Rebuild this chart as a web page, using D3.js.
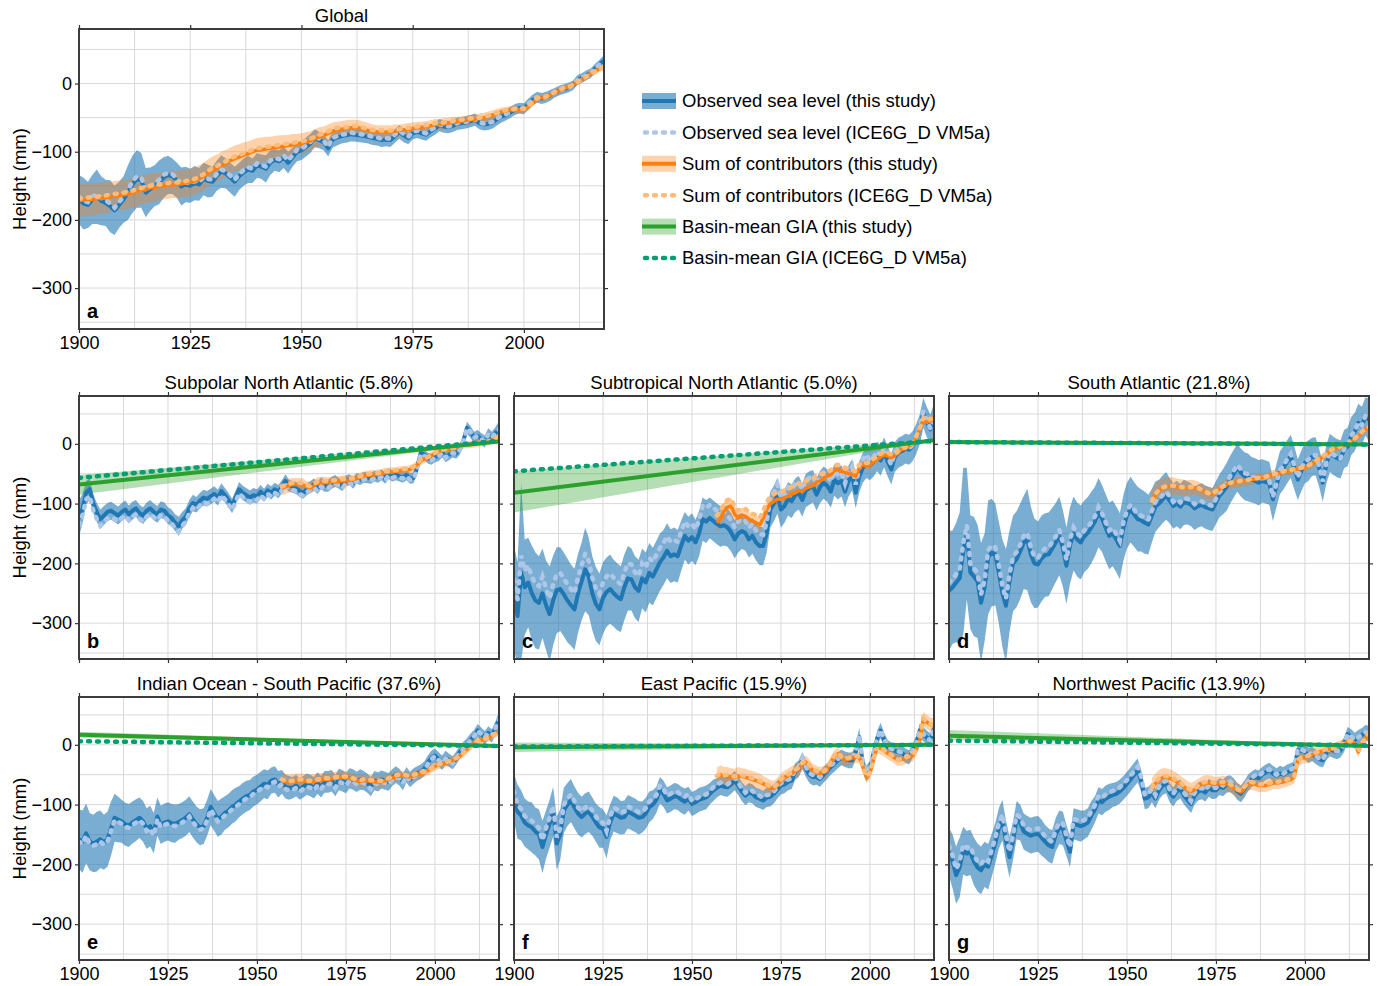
<!DOCTYPE html>
<html lang="en">
<head>
<meta charset="UTF-8">
<title>Regional sea level</title>
<script src="https://d3js.org/d3.v7.min.js"></script>
<style>
  body { margin: 0; background: #fff; }
  text { font-family: "Liberation Sans", Arial, Helvetica, sans-serif; fill: #000; }
  .tick text { font-size: 18px; }
  .title { font-size: 18.5px; text-anchor: middle; }
  .letter { font-size: 20px; font-weight: bold; }
  .ylab { font-size: 18.5px; text-anchor: middle; }
  .legend text { font-size: 18.5px; }
</style>
</head>
<body>
<div id="chart"></div>
<script>
const years = d3.range(1900, 2019);
const sumYears = d3.range(1957, 2019);
const giaYears = [1900, 2018];
const xTicks = [1900, 1925, 1950, 1975, 2000];
const yTicks = [-300, -200, -100, 0];

// Global
const globalObs = [
  -170,-176,-178,-170,-166,-172,-175,-180,-186,-178,
  -170,-160,-148,-140,-142,-160,-155,-150,-145,-138,
  -134,-136,-142,-151,-148,-150,-146,-148,-140,-143,
  -144,-135,-129,-132,-138,-144,-136,-130,-126,-128,
  -120,-122,-125,-116,-112,-114,-108,-116,-108,-100,
  -98,-93,-88,-80,-83,-86,-95,-82,-79,-77,
  -76,-74,-75,-76,-77,-78,-80,-81,-83,-82,
  -83,-77,-71,-76,-80,-73,-71,-73,-75,-70,
  -66,-61,-63,-64,-62,-59,-58,-57,-55,-53,
  -58,-60,-59,-57,-52,-48,-46,-42,-38,-36,
  -37,-30,-24,-20,-22,-20,-17,-13,-10,-8,
  -6,-3,5,8,12,15,22,28,34];
const globalObsErr = [
  36,38,34,36,40,36,34,38,36,34,
  34,40,42,42,40,36,32,30,32,30,
  28,26,26,28,26,25,25,24,24,24,
  22,22,24,22,22,22,20,20,20,18,
  18,18,20,18,16,16,16,16,14,14,
  14,14,14,13,12,12,12,12,12,11,
  11,11,10,10,10,10,10,10,10,10,
  10,10,10,10,9,9,9,9,9,9,
  9,9,9,9,9,9,9,9,9,9,
  9,9,9,9,9,9,8,8,8,8,
  8,8,8,8,8,8,8,7,7,7,
  7,7,7,7,7,7,7,7,8];
const globalObsIce = [
  -166,-172,-174,-166,-162,-168,-171,-176,-182,-174,
  -166,-156,-144,-136,-138,-156,-151,-146,-141,-134,
  -131,-133,-139,-148,-145,-147,-143,-145,-137,-140,
  -141,-132,-126,-129,-135,-141,-133,-127,-123,-125,
  -117,-119,-122,-113,-109,-111,-105,-113,-105,-97,
  -96,-91,-86,-78,-81,-84,-93,-80,-77,-75,
  -74,-72,-73,-74,-75,-76,-78,-79,-81,-80,
  -81,-75,-69,-74,-78,-71,-69,-71,-73,-68,
  -65,-60,-62,-63,-61,-58,-57,-56,-54,-52,
  -57,-59,-58,-56,-51,-47,-45,-41,-37,-35,
  -37,-30,-24,-20,-22,-20,-17,-13,-10,-8,
  -6,-3,5,8,12,15,22,28,34];
const globalSum = [
  -172,-171,-170,-170,-169,-168,-167,-166,-165,-164,
  -163,-162,-160,-158,-156,-155,-153,-152,-151,-150,
  -149,-148,-148,-147,-146,-145,-143,-140,-136,-131,
  -127,-124,-120,-117,-113,-110,-108,-105,-103,-100,
  -98,-97,-96,-95,-94,-93,-92,-91,-90,-89,
  -88,-86,-84,-81,-78,-76,-73,-70,-68,-67,
  -66,-65,-64,-65,-67,-69,-70,-71,-71,-71,
  -71,-70,-69,-68,-67,-66,-65,-64,-63,-62,
  -60,-60,-59,-58,-57,-56,-55,-54,-53,-52,
  -51,-50,-48,-46,-44,-41,-40,-39,-38,-38,
  -38,-34,-28,-22,-21,-20,-17,-13,-10,-7,
  -5,-2,2,6,10,15,18,22,25];
const globalSumErr = [
  24,24,24,24,23,23,23,22,22,22,
  22,22,22,22,21,21,21,21,20,20,
  20,20,20,20,20,20,20,20,20,20,
  20,20,20,20,19,19,19,19,18,18,
  18,18,18,17,17,17,16,16,16,15,
  15,15,14,14,14,13,13,13,12,12,
  12,12,11,11,11,11,10,10,10,10,
  10,10,9,9,9,9,9,8,8,8,
  8,8,8,8,8,7,7,7,7,7,
  7,7,7,7,7,6,6,6,6,6,
  6,6,5,5,5,5,5,5,5,5,
  5,5,5,5,5,5,5,5,5];
const globalSumIce = [
  -169,-168,-167,-167,-166,-165,-164,-163,-162,-161,
  -160,-159,-157,-155,-153,-152,-150,-149,-148,-147,
  -146,-145,-145,-144,-143,-142,-140,-137,-133,-128,
  -124,-121,-117,-114,-110,-107,-105,-102,-100,-97,
  -95,-94,-93,-92,-91,-90,-89,-88,-87,-86,
  -85,-83,-81,-78,-75,-73,-70,-67,-65,-64,
  -64,-63,-62,-63,-65,-67,-68,-69,-69,-69,
  -69,-68,-67,-66,-65,-64,-63,-62,-61,-60,
  -58,-58,-57,-56,-55,-54,-53,-52,-51,-50,
  -50,-49,-47,-45,-43,-40,-39,-38,-37,-37,
  -37,-33,-27,-21,-20,-19,-16,-12,-9,-6,
  -5,-2,2,6,10,15,18,22,25];

// Subpolar North Atlantic
const spnaObs = [
  -125,-108,-82,-76,-100,-115,-126,-120,-114,-112,
  -116,-120,-114,-110,-118,-112,-108,-116,-120,-112,
  -108,-114,-118,-110,-112,-120,-124,-132,-138,-128,
  -122,-108,-99,-102,-95,-90,-92,-88,-84,-90,
  -79,-86,-94,-104,-90,-76,-82,-86,-90,-86,
  -88,-80,-86,-78,-82,-76,-80,-72,-62,-70,
  -72,-74,-79,-82,-76,-72,-68,-74,-66,-70,
  -70,-65,-62,-66,-70,-62,-60,-66,-58,-60,
  -56,-57,-58,-54,-56,-52,-58,-50,-54,-52,
  -54,-56,-52,-58,-57,-40,-15,-18,-24,-26,
  -22,-20,-14,-22,-18,-14,-16,-9,5,27,
  20,10,13,8,4,16,10,18,24];
const spnaObsErr = [
  30,25,20,18,16,16,16,16,15,15,
  15,15,15,15,15,15,14,14,14,14,
  14,14,14,14,14,14,14,14,16,14,
  14,14,14,13,13,13,13,13,13,13,
  13,12,12,12,12,12,12,12,12,12,
  12,11,11,11,11,11,11,11,11,10,
  10,10,10,10,10,10,10,10,10,10,
  10,10,10,9,9,9,9,9,9,9,
  9,9,9,9,9,9,9,9,9,9,
  9,9,9,9,9,9,9,9,9,9,
  9,9,9,9,9,9,9,9,9,10,
  10,10,10,10,10,10,10,10,14];
const spnaObsIce = [
  -136,-119,-93,-87,-111,-126,-137,-131,-125,-123,
  -126,-130,-124,-120,-128,-122,-118,-126,-130,-122,
  -117,-123,-127,-119,-121,-129,-133,-141,-147,-137,
  -130,-116,-107,-110,-103,-98,-100,-96,-92,-98,
  -86,-93,-101,-111,-97,-83,-89,-93,-97,-93,
  -94,-86,-92,-84,-88,-82,-86,-78,-68,-76,
  -77,-79,-84,-87,-81,-77,-73,-79,-71,-75,
  -74,-69,-66,-70,-74,-66,-64,-70,-62,-64,
  -59,-60,-61,-57,-59,-55,-61,-53,-57,-55,
  -56,-58,-54,-60,-59,-42,-17,-20,-26,-28,
  -23,-21,-15,-23,-19,-15,-17,-10,4,26,
  20,10,13,8,4,16,10,18,24];
const spnaSum = [
  -74,-72,-70,-68,-68,-68,-69,-72,-74,-70,
  -66,-65,-65,-65,-64,-64,-63,-62,-62,-61,
  -60,-58,-56,-54,-53,-52,-52,-51,-50,-48,
  -48,-47,-46,-45,-44,-44,-43,-40,-35,-29,
  -25,-23,-20,-16,-13,-11,-10,-9,-8,-6,
  -4,-2,-1,-1,0,1,2,3,4,6,
  9,13];
const spnaSumErr = [
  12,12,12,11,11,11,11,10,10,10,
  10,10,10,9,9,9,9,9,9,9,
  8,8,8,8,8,8,8,8,8,8,
  8,8,7,7,7,7,7,7,7,7,
  7,7,6,6,6,6,6,6,6,6,
  6,6,6,6,6,6,6,6,6,6,
  6,7];
const spnaSumIce = [
  -71,-69,-67,-65,-65,-65,-66,-69,-71,-67,
  -63,-62,-62,-62,-61,-61,-60,-59,-59,-58,
  -58,-56,-54,-52,-51,-50,-50,-49,-48,-46,
  -46,-45,-44,-43,-42,-42,-41,-38,-33,-27,
  -24,-22,-19,-15,-12,-10,-9,-8,-7,-5,
  -4,-2,-1,-1,0,1,2,3,4,6,
  9,13];
const spnaGia = [-68, 4];
const spnaGiaLo = [-85, 3];
const spnaGiaHi = [-52, 5];
const spnaGiaIce = [-57, 5];

// Subtropical North Atlantic
const stnaObs = [
  -255,-288,-215,-240,-232,-250,-262,-266,-250,-270,
  -285,-262,-245,-243,-252,-262,-270,-277,-250,-230,
  -210,-222,-250,-268,-277,-258,-248,-243,-250,-256,
  -260,-240,-225,-227,-240,-246,-225,-232,-216,-222,
  -210,-198,-190,-179,-188,-185,-188,-170,-154,-162,
  -156,-165,-150,-126,-130,-124,-129,-134,-138,-136,
  -140,-148,-160,-150,-146,-149,-160,-154,-165,-171,
  -171,-150,-110,-100,-87,-110,-104,-92,-96,-86,
  -82,-94,-78,-74,-71,-85,-72,-65,-70,-80,
  -60,-66,-62,-80,-62,-52,-82,-55,-40,-32,
  -36,-30,-21,-28,-14,-30,-43,-22,-15,-12,
  -8,-10,-4,8,24,52,36,24,40];
const stnaObsErr = [
  85,90,150,80,75,80,80,78,75,75,
  80,75,72,70,70,70,68,68,66,65,
  70,65,62,62,60,60,58,58,56,56,
  55,55,54,52,52,52,50,50,50,48,
  48,48,46,46,45,45,44,42,40,40,
  40,38,38,36,36,34,34,34,34,34,
  32,32,32,32,30,30,30,30,30,32,
  32,32,30,30,30,30,28,28,28,28,
  28,28,28,28,27,27,27,27,27,27,
  27,27,26,26,26,26,26,26,25,25,
  25,25,25,25,25,25,25,25,25,25,
  25,25,25,25,25,25,25,25,28];
const stnaObsIce = [
  -227,-260,-187,-212,-204,-222,-234,-238,-222,-242,
  -258,-235,-218,-216,-225,-235,-243,-250,-223,-203,
  -184,-196,-224,-242,-251,-232,-222,-217,-224,-230,
  -235,-215,-200,-202,-215,-221,-200,-207,-191,-197,
  -186,-174,-166,-155,-164,-161,-164,-146,-130,-138,
  -134,-143,-128,-104,-108,-102,-107,-112,-116,-114,
  -120,-128,-140,-130,-126,-129,-140,-134,-145,-151,
  -152,-131,-91,-81,-68,-91,-85,-73,-77,-67,
  -65,-77,-61,-57,-54,-68,-55,-48,-53,-63,
  -46,-52,-48,-66,-48,-38,-68,-41,-26,-18,
  -28,-22,-13,-20,-6,-22,-35,-14,-7,-4,
  -6,-8,-2,10,26,54,38,26,42];
const stnaSum = [
  -132,-125,-112,-106,-104,-118,-124,-120,-121,-126,
  -129,-132,-136,-125,-110,-100,-96,-93,-92,-90,
  -88,-84,-82,-78,-80,-74,-72,-70,-64,-62,
  -58,-54,-52,-45,-43,-46,-48,-50,-52,-54,
  -40,-35,-37,-36,-30,-26,-22,-18,-20,-23,
  -20,-14,-9,-8,-3,-1,10,24,41,36,
  40,38];
const stnaSumErr = [
  16,15,15,14,14,14,13,13,13,12,
  12,12,12,11,11,11,10,10,10,10,
  10,9,9,9,9,9,8,8,8,8,
  8,8,8,8,7,7,7,7,7,7,
  7,7,7,6,6,6,6,6,6,6,
  6,6,6,6,6,6,6,6,7,7,
  7,8];
const stnaSumIce = [
  -120,-113,-100,-94,-92,-106,-112,-108,-109,-114,
  -117,-120,-124,-113,-98,-88,-84,-81,-80,-78,
  -76,-72,-70,-66,-68,-62,-60,-58,-52,-50,
  -50,-46,-44,-37,-35,-38,-40,-42,-44,-46,
  -35,-30,-32,-31,-25,-21,-17,-13,-15,-18,
  -18,-12,-7,-6,-1,1,12,26,43,38,
  42,40];
const stnaGia = [-82, 6];
const stnaGiaLo = [-115, 5];
const stnaGiaHi = [-46, 7];
const stnaGiaIce = [-46, 5];

// South Atlantic
const saObs = [
  -246,-240,-232,-225,-180,-150,-215,-222,-230,-266,
  -240,-190,-182,-185,-215,-250,-271,-230,-200,-193,
  -180,-165,-160,-185,-200,-202,-192,-186,-185,-175,
  -165,-154,-175,-204,-170,-150,-160,-165,-155,-149,
  -140,-130,-115,-125,-140,-154,-150,-160,-171,-140,
  -120,-110,-118,-126,-128,-132,-135,-120,-105,-100,
  -93,-87,-95,-104,-100,-105,-98,-99,-102,-108,
  -104,-102,-106,-108,-110,-98,-87,-80,-72,-60,
  -50,-40,-48,-54,-56,-60,-62,-65,-62,-64,
  -66,-93,-70,-48,-40,-30,-21,-40,-60,-45,
  -32,-28,-22,-21,-40,-65,-35,-15,-20,-24,
  -26,-9,-5,13,20,35,30,46,40];
const saObsErr = [
  100,95,100,110,140,110,95,100,95,100,
  90,95,90,85,85,90,95,85,80,80,
  80,78,85,80,75,72,72,70,70,68,
  66,66,64,64,64,62,62,62,60,60,
  60,58,58,56,56,56,55,55,55,55,
  55,55,54,54,52,52,50,45,42,40,
  40,40,38,38,38,38,38,36,36,36,
  36,36,36,36,36,36,36,38,40,40,
  40,40,40,40,40,38,38,38,36,36,
  36,36,36,36,36,36,36,36,34,34,
  34,34,32,32,32,32,32,32,32,32,
  32,32,32,32,32,32,32,32,36];
const saObsIce = [
  -232,-226,-218,-211,-166,-136,-201,-208,-216,-252,
  -228,-178,-170,-173,-203,-238,-259,-218,-188,-181,
  -169,-154,-149,-174,-189,-191,-181,-175,-174,-164,
  -155,-144,-165,-194,-160,-140,-150,-155,-145,-139,
  -131,-121,-106,-116,-131,-145,-141,-151,-162,-131,
  -112,-102,-110,-118,-120,-124,-127,-112,-97,-92,
  -86,-80,-88,-97,-93,-98,-91,-92,-95,-101,
  -98,-96,-100,-102,-104,-92,-81,-74,-66,-54,
  -45,-35,-43,-49,-51,-55,-57,-60,-57,-59,
  -62,-89,-66,-44,-36,-26,-17,-36,-56,-41,
  -30,-26,-20,-19,-38,-63,-33,-13,-18,-22,
  -25,-8,-4,14,21,36,31,47,41];
const saSum = [
  -96,-85,-78,-74,-72,-71,-71,-72,-73,-74,
  -74,-73,-74,-75,-78,-81,-84,-85,-80,-76,
  -72,-68,-66,-65,-64,-63,-62,-61,-60,-59,
  -58,-57,-56,-54,-52,-51,-49,-47,-46,-45,
  -43,-42,-41,-40,-37,-34,-30,-26,-22,-18,
  -13,-9,-7,-5,-3,-1,3,8,13,19,
  24,27];
const saSumErr = [
  18,18,17,16,16,15,15,14,14,14,
  13,13,13,12,12,12,11,11,11,10,
  10,10,10,9,9,9,9,9,8,8,
  8,8,8,8,8,7,7,7,7,7,
  7,7,7,6,6,6,6,6,6,6,
  6,6,6,6,6,6,6,6,6,6,
  6,6];
const saSumIce = [
  -95,-84,-77,-73,-71,-70,-70,-71,-72,-73,
  -73,-72,-73,-74,-77,-80,-83,-84,-79,-75,
  -71,-67,-65,-64,-63,-62,-61,-60,-59,-58,
  -57,-56,-55,-53,-51,-50,-48,-46,-45,-44,
  -42,-41,-40,-39,-36,-33,-29,-25,-21,-17,
  -12,-8,-6,-4,-2,0,4,9,14,20,
  25,28];
const saGia = [3, -1];
const saGiaLo = [1, -1.5];
const saGiaHi = [5, -0.5];
const saGiaIce = [3, -1];

// Indian Ocean - South Pacific
const iospObs = [
  -158,-162,-148,-162,-165,-162,-158,-163,-158,-140,
  -122,-125,-128,-133,-135,-130,-126,-122,-128,-140,
  -136,-148,-120,-134,-130,-128,-131,-132,-129,-126,
  -122,-116,-125,-133,-138,-136,-122,-104,-114,-124,
  -120,-114,-110,-104,-100,-95,-90,-86,-84,-78,
  -75,-70,-65,-67,-60,-58,-66,-62,-70,-72,
  -72,-68,-74,-70,-66,-68,-72,-64,-70,-62,
  -62,-60,-68,-58,-60,-64,-56,-58,-62,-58,
  -60,-64,-70,-60,-62,-58,-60,-62,-55,-50,
  -54,-62,-50,-58,-52,-48,-45,-40,-30,-22,
  -18,-24,-30,-22,-26,-30,-22,-12,-6,0,
  8,14,24,18,12,20,15,28,42];
const iospObsErr = [
  50,52,50,48,48,50,48,46,46,45,
  40,38,36,36,36,35,35,34,34,34,
  34,34,32,32,32,32,32,32,30,30,
  30,30,30,30,30,30,30,30,30,30,
  30,28,28,28,28,26,26,26,25,25,
  25,25,24,24,22,22,22,20,20,20,
  18,18,18,18,18,18,18,18,18,18,
  18,18,18,18,18,17,17,17,17,17,
  16,16,16,16,16,15,15,15,14,14,
  14,14,13,13,13,12,12,12,12,12,
  12,12,12,12,11,11,11,11,11,11,
  11,11,11,11,11,11,11,11,14];
const iospObsIce = [
  -162,-166,-152,-166,-169,-166,-162,-167,-162,-144,
  -126,-129,-132,-137,-139,-134,-130,-126,-132,-144,
  -140,-152,-124,-138,-134,-132,-135,-136,-133,-130,
  -126,-120,-129,-137,-142,-140,-126,-108,-118,-128,
  -124,-118,-114,-108,-104,-99,-94,-90,-88,-82,
  -79,-74,-69,-71,-64,-62,-70,-66,-74,-76,
  -76,-72,-78,-74,-70,-72,-76,-68,-74,-66,
  -66,-64,-72,-62,-64,-68,-60,-62,-66,-62,
  -64,-68,-74,-64,-66,-62,-64,-66,-59,-54,
  -56,-64,-52,-60,-54,-50,-47,-42,-32,-24,
  -19,-25,-31,-23,-27,-31,-23,-13,-7,-1,
  8,14,24,18,12,20,15,28,42];
const iospSum = [
  -60,-62,-63,-62,-61,-60,-60,-62,-62,-61,
  -60,-59,-58,-58,-57,-56,-56,-55,-55,-56,
  -58,-60,-61,-60,-60,-61,-62,-62,-62,-60,
  -58,-55,-53,-52,-52,-53,-54,-52,-50,-48,
  -46,-43,-40,-36,-34,-32,-30,-28,-26,-23,
  -18,-14,-8,-2,3,6,8,10,12,15,
  19,22];
const iospSumErr = [
  14,14,13,13,13,12,12,12,12,12,
  12,12,11,11,11,11,11,11,11,10,
  10,10,10,10,10,10,10,10,9,9,
  9,9,9,9,8,8,8,8,8,8,
  8,8,7,7,7,7,7,7,7,7,
  7,7,7,7,7,7,7,7,7,7,
  7,7];
const iospSumIce = [
  -58,-60,-61,-60,-59,-58,-58,-60,-60,-59,
  -58,-57,-56,-56,-55,-54,-54,-53,-53,-54,
  -56,-58,-59,-58,-58,-59,-60,-60,-60,-58,
  -56,-53,-51,-50,-50,-51,-52,-50,-48,-46,
  -45,-42,-39,-35,-33,-31,-29,-27,-25,-22,
  -18,-14,-8,-2,3,6,8,10,12,15,
  19,22];
const iospGia = [17, -2];
const iospGiaLo = [12, -2.5];
const iospGiaHi = [22, -1.5];
const iospGiaIce = [6, -2];

// East Pacific
const epObs = [
  -88,-112,-118,-130,-135,-138,-145,-150,-171,-150,
  -132,-112,-165,-150,-110,-100,-93,-105,-115,-121,
  -115,-112,-120,-130,-138,-140,-154,-130,-115,-118,
  -122,-121,-112,-115,-118,-122,-121,-115,-104,-100,
  -92,-76,-82,-93,-90,-86,-87,-92,-95,-90,
  -99,-96,-92,-90,-88,-82,-76,-72,-68,-70,
  -71,-66,-60,-68,-78,-85,-80,-82,-88,-90,
  -93,-88,-87,-82,-75,-68,-66,-62,-60,-45,
  -40,-26,-40,-50,-54,-54,-57,-50,-44,-37,
  -32,-26,-21,-24,-26,-26,-12,13,-32,-48,
  -40,-15,10,24,8,-4,-8,-10,-12,-14,
  -18,-21,-10,2,24,18,12,7,27];
const epObsErr = [
  40,45,42,40,40,42,40,42,44,40,
  40,42,45,42,38,36,36,35,35,34,
  34,34,32,32,34,32,36,30,30,30,
  28,28,28,28,28,28,26,26,26,24,
  22,22,22,22,22,22,22,22,22,20,
  20,20,20,20,20,18,18,16,16,16,
  16,16,16,16,16,16,16,16,16,16,
  16,16,16,16,15,15,15,14,14,14,
  14,14,14,14,14,13,13,13,13,13,
  13,13,13,13,13,13,13,15,13,13,
  13,13,13,13,12,12,12,12,12,12,
  12,12,12,12,12,12,12,12,14];
const epObsIce = [
  -77,-101,-107,-119,-124,-127,-134,-139,-160,-139,
  -122,-102,-155,-140,-100,-90,-83,-95,-105,-111,
  -105,-102,-110,-120,-128,-130,-144,-120,-105,-108,
  -113,-112,-103,-106,-109,-113,-112,-106,-95,-91,
  -84,-68,-74,-85,-82,-78,-79,-84,-87,-82,
  -94,-91,-87,-85,-83,-77,-71,-67,-63,-65,
  -66,-61,-55,-63,-73,-80,-75,-77,-83,-85,
  -89,-84,-83,-78,-71,-64,-62,-58,-56,-41,
  -37,-23,-37,-47,-51,-51,-54,-47,-41,-34,
  -30,-24,-19,-22,-24,-24,-10,15,-30,-46,
  -39,-14,11,25,9,-3,-7,-9,-11,-13,
  -18,-21,-10,2,24,18,12,7,27];
const epSum = [
  -54,-50,-53,-52,-54,-55,-52,-53,-54,-56,
  -58,-60,-62,-65,-68,-72,-73,-68,-60,-55,
  -52,-48,-44,-40,-32,-29,-36,-43,-46,-48,
  -46,-42,-30,-20,-15,-22,-25,-24,-22,-20,
  -21,-36,-54,-48,-25,-4,-6,-10,-14,-18,
  -22,-26,-24,-22,-20,-18,-8,7,43,38,
  34,32];
const epSumErr = [
  16,16,16,15,15,15,15,14,14,14,
  14,14,14,13,13,13,13,13,12,12,
  12,12,12,12,12,11,11,11,11,11,
  11,11,11,11,10,10,10,10,10,10,
  10,10,10,10,10,10,10,10,10,10,
  10,10,10,10,10,10,10,10,12,12,
  12,12];
const epSumIce = [
  -52,-48,-51,-50,-52,-53,-50,-51,-52,-54,
  -56,-58,-60,-63,-66,-70,-71,-66,-58,-53,
  -50,-46,-42,-38,-30,-27,-34,-41,-44,-46,
  -44,-40,-28,-18,-13,-20,-23,-22,-20,-18,
  -20,-35,-53,-47,-24,-3,-5,-9,-13,-17,
  -21,-25,-23,-21,-19,-17,-7,8,44,39,
  35,33];
const epGia = [-4, 0];
const epGiaLo = [-12, -0.5];
const epGiaHi = [4, 0.5];
const epGiaIce = [-3, 0];

// Northwest Pacific
const nwpObs = [
  -179,-195,-218,-205,-177,-182,-180,-195,-205,-210,
  -200,-204,-185,-165,-140,-126,-160,-188,-160,-126,
  -130,-145,-149,-152,-150,-149,-155,-162,-168,-171,
  -150,-138,-140,-160,-179,-132,-134,-136,-134,-130,
  -118,-108,-93,-96,-90,-87,-84,-82,-78,-72,
  -65,-58,-50,-43,-60,-90,-88,-80,-90,-76,
  -68,-65,-80,-87,-78,-74,-85,-92,-99,-85,
  -78,-76,-80,-72,-76,-76,-70,-72,-66,-65,
  -70,-78,-82,-74,-64,-58,-54,-56,-50,-46,
  -43,-48,-52,-48,-50,-46,-44,-40,-9,-10,
  -12,-18,-15,-20,-24,-26,-14,-7,-10,-12,
  -9,0,18,14,8,13,16,21,18];
const nwpObsErr = [
  40,45,48,50,40,38,38,40,40,40,
  38,38,36,34,34,34,34,34,32,32,
  30,30,30,30,30,30,30,28,28,28,
  28,28,28,26,26,26,26,26,24,24,
  24,22,22,22,22,22,20,20,20,20,
  20,20,20,20,18,18,18,16,16,16,
  16,16,16,16,16,16,15,15,15,15,
  15,15,15,15,15,14,14,14,14,14,
  14,14,14,14,14,13,13,13,13,13,
  13,13,13,13,13,13,13,13,13,13,
  13,13,12,12,12,12,12,12,12,12,
  12,12,12,12,12,12,12,12,14];
const nwpObsIce = [
  -169,-185,-208,-195,-167,-172,-170,-185,-195,-200,
  -191,-195,-176,-156,-131,-117,-151,-179,-151,-117,
  -121,-136,-140,-143,-141,-140,-146,-153,-159,-162,
  -142,-130,-132,-152,-171,-124,-126,-128,-126,-122,
  -111,-101,-86,-89,-83,-80,-77,-75,-71,-65,
  -59,-52,-44,-37,-54,-84,-82,-74,-84,-70,
  -63,-60,-75,-82,-73,-69,-80,-87,-94,-80,
  -74,-72,-76,-68,-72,-72,-66,-68,-62,-61,
  -67,-75,-79,-71,-61,-55,-51,-53,-47,-43,
  -41,-46,-50,-46,-48,-44,-42,-38,-7,-8,
  -11,-17,-14,-19,-23,-25,-13,-6,-9,-11,
  -9,0,18,14,8,13,16,21,18];
const nwpSum = [
  -73,-65,-58,-55,-54,-56,-58,-62,-66,-70,
  -74,-78,-75,-70,-66,-64,-64,-65,-66,-65,
  -64,-65,-68,-72,-76,-79,-72,-66,-64,-66,
  -68,-68,-68,-66,-64,-64,-63,-62,-60,-58,
  -54,-26,-22,-21,-19,-17,-14,-12,-10,-8,
  -7,-6,-4,-1,2,6,7,2,-12,4,
  10,21];
const nwpSumErr = [
  18,17,16,16,15,15,15,15,14,14,
  14,14,14,13,13,13,13,13,12,12,
  12,12,12,12,12,11,11,11,11,11,
  11,11,11,11,10,10,10,10,10,10,
  10,10,10,10,10,10,9,9,9,9,
  9,9,9,9,9,9,9,9,9,9,
  9,9];
const nwpSumIce = [
  -71,-63,-56,-53,-52,-54,-56,-60,-64,-68,
  -72,-76,-73,-68,-64,-62,-62,-63,-64,-63,
  -62,-63,-66,-70,-74,-77,-70,-64,-62,-64,
  -66,-66,-66,-64,-62,-62,-61,-60,-58,-56,
  -53,-25,-21,-20,-18,-16,-13,-11,-9,-7,
  -7,-6,-4,-1,2,6,7,2,-12,4,
  10,21];
const nwpGia = [15, -2];
const nwpGiaLo = [8, -2.5];
const nwpGiaHi = [25, -1.5];
const nwpGiaIce = [7, -1];

const colors = {
  obs: "#1f77b4", obsIce: "#aec7e8",
  sum: "#ff7f0e", sumIce: "#ffbb78",
  gia: "#2ca02c", giaIce: "#009e73"
};

const panels = [
  {id: "a", title: "Global", box: [79, 604, 29, 329], yLab: true, xLab: true,
   obs: globalObs, obsErr: globalObsErr, obsIce: globalObsIce,
   sumX: years, sum: globalSum, sumErr: globalSumErr, sumIce: globalSumIce},
  {id: "b", title: "Subpolar North Atlantic (5.8%)", box: [79, 499, 396, 659], yLab: true, xLab: false,
   obs: spnaObs, obsErr: spnaObsErr, obsIce: spnaObsIce,
   sumX: sumYears, sum: spnaSum, sumErr: spnaSumErr, sumIce: spnaSumIce,
   gia: spnaGia, giaLo: spnaGiaLo, giaHi: spnaGiaHi, giaIce: spnaGiaIce},
  {id: "c", title: "Subtropical North Atlantic (5.0%)", box: [514, 934, 396, 659], yLab: false, xLab: false,
   obs: stnaObs, obsErr: stnaObsErr, obsIce: stnaObsIce,
   sumX: sumYears, sum: stnaSum, sumErr: stnaSumErr, sumIce: stnaSumIce,
   gia: stnaGia, giaLo: stnaGiaLo, giaHi: stnaGiaHi, giaIce: stnaGiaIce},
  {id: "d", title: "South Atlantic (21.8%)", box: [949, 1369, 396, 659], yLab: false, xLab: false,
   obs: saObs, obsErr: saObsErr, obsIce: saObsIce,
   sumX: sumYears, sum: saSum, sumErr: saSumErr, sumIce: saSumIce,
   gia: saGia, giaLo: saGiaLo, giaHi: saGiaHi, giaIce: saGiaIce},
  {id: "e", title: "Indian Ocean - South Pacific (37.6%)", box: [79, 499, 697, 960], yLab: true, xLab: true,
   obs: iospObs, obsErr: iospObsErr, obsIce: iospObsIce,
   sumX: sumYears, sum: iospSum, sumErr: iospSumErr, sumIce: iospSumIce,
   gia: iospGia, giaLo: iospGiaLo, giaHi: iospGiaHi, giaIce: iospGiaIce},
  {id: "f", title: "East Pacific (15.9%)", box: [514, 934, 697, 960], yLab: false, xLab: true,
   obs: epObs, obsErr: epObsErr, obsIce: epObsIce,
   sumX: sumYears, sum: epSum, sumErr: epSumErr, sumIce: epSumIce,
   gia: epGia, giaLo: epGiaLo, giaHi: epGiaHi, giaIce: epGiaIce},
  {id: "g", title: "Northwest Pacific (13.9%)", box: [949, 1369, 697, 960], yLab: false, xLab: true,
   obs: nwpObs, obsErr: nwpObsErr, obsIce: nwpObsIce,
   sumX: sumYears, sum: nwpSum, sumErr: nwpSumErr, sumIce: nwpSumIce,
   gia: nwpGia, giaLo: nwpGiaLo, giaHi: nwpGiaHi, giaIce: nwpGiaIce}
];

const svg = d3.select("#chart").append("svg")
  .attr("width", 1379)
  .attr("height", 986);
const defs = svg.append("defs");

function drawPanel(p) {
  const [x0, x1, y0, y1] = p.box;
  const x = d3.scaleLinear().domain([1900, 2018]).range([x0, x1]);
  const y = d3.scaleLinear().domain([-360, 80]).range([y1, y0]);
  const g = svg.append("g");

  defs.append("clipPath").attr("id", "clip-" + p.id)
    .append("rect").attr("x", x0).attr("y", y0).attr("width", x1 - x0).attr("height", y1 - y0);

  g.append("g").selectAll("line")
    .data(d3.range(1912.5, 2018, 12.5))
    .join("line")
    .attr("x1", d => x(d)).attr("x2", d => x(d))
    .attr("y1", y0).attr("y2", y1)
    .attr("stroke", "#d9d9d9").attr("stroke-width", 1);
  g.append("g").selectAll("line")
    .data(d3.range(-350, 80, 50))
    .join("line")
    .attr("x1", x0).attr("x2", x1)
    .attr("y1", d => y(d)).attr("y2", d => y(d))
    .attr("stroke", "#d9d9d9").attr("stroke-width", 1);

  const plot = g.append("g").attr("clip-path", `url(#clip-${p.id})`);

  const band = (xs, lo, hi) => d3.area()
    .x((d, i) => x(xs[i]))
    .y0((d, i) => y(lo[i]))
    .y1((d, i) => y(hi[i]))(xs);
  const line = (xs, vs) => d3.line()
    .x((d, i) => x(xs[i]))
    .y((d, i) => y(vs[i]))(xs);

  const obsLo = p.obs.map((v, i) => v - p.obsErr[i]);
  const obsHi = p.obs.map((v, i) => v + p.obsErr[i]);
  const sumLo = p.sum.map((v, i) => v - p.sumErr[i]);
  const sumHi = p.sum.map((v, i) => v + p.sumErr[i]);

  plot.append("path").attr("d", band(years, obsLo, obsHi))
    .attr("fill", colors.obs).attr("fill-opacity", 0.6);
  plot.append("path").attr("d", band(p.sumX, sumLo, sumHi))
    .attr("fill", colors.sum).attr("fill-opacity", 0.35);
  if (p.gia) {
    plot.append("path").attr("d", band(giaYears, p.giaLo, p.giaHi))
      .attr("fill", colors.gia).attr("fill-opacity", 0.35);
  }

  plot.append("path").attr("d", line(years, p.obs))
    .attr("fill", "none").attr("stroke", colors.obs).attr("stroke-width", 4)
    .attr("stroke-linejoin", "round");
  plot.append("path").attr("d", line(years, p.obsIce))
    .attr("fill", "none").attr("stroke", colors.obsIce).attr("stroke-width", 4.5)
    .attr("stroke-linecap", "round").attr("stroke-dasharray", "2,7");
  plot.append("path").attr("d", line(p.sumX, p.sum))
    .attr("fill", "none").attr("stroke", colors.sum).attr("stroke-width", 3.5)
    .attr("stroke-linejoin", "round");
  plot.append("path").attr("d", line(p.sumX, p.sumIce))
    .attr("fill", "none").attr("stroke", colors.sumIce).attr("stroke-width", 4.5)
    .attr("stroke-linecap", "round").attr("stroke-dasharray", "2,7");
  if (p.gia) {
    plot.append("path").attr("d", line(giaYears, p.gia))
      .attr("fill", "none").attr("stroke", colors.gia).attr("stroke-width", 4);
    plot.append("path").attr("d", line(giaYears, p.giaIce))
      .attr("fill", "none").attr("stroke", colors.giaIce).attr("stroke-width", 4.5)
      .attr("stroke-linecap", "round").attr("stroke-dasharray", "2,7");
  }

  const styleAxis = sel => {
    sel.select(".domain").remove();
    sel.selectAll(".tick line").attr("stroke", "#333").attr("stroke-width", 1.2);
    sel.attr("font-size", null).attr("font-family", null);
  };
  g.append("g").attr("transform", `translate(0,${y1})`)
    .call(d3.axisBottom(x).tickValues(xTicks).tickSize(4).tickPadding(3)
      .tickFormat(p.xLab ? d3.format("d") : ""))
    .call(styleAxis);
  g.append("g").attr("transform", `translate(0,${y0})`)
    .call(d3.axisTop(x).tickValues(xTicks).tickSize(4).tickFormat(""))
    .call(styleAxis);
  g.append("g").attr("transform", `translate(${x0},0)`)
    .call(d3.axisLeft(y).tickValues(yTicks).tickSize(4).tickPadding(3)
      .tickFormat(p.yLab ? d3.format("d") : ""))
    .call(styleAxis);
  g.append("g").attr("transform", `translate(${x1},0)`)
    .call(d3.axisRight(y).tickValues(yTicks).tickSize(4).tickFormat(""))
    .call(styleAxis);

  g.append("rect")
    .attr("x", x0).attr("y", y0).attr("width", x1 - x0).attr("height", y1 - y0)
    .attr("fill", "none").attr("stroke", "#3c3c3c").attr("stroke-width", 2);

  g.append("text").attr("class", "title")
    .attr("x", (x0 + x1) / 2).attr("y", y0 - 7)
    .text(p.title);
  g.append("text").attr("class", "letter")
    .attr("x", x0 + 8).attr("y", y1 - 11)
    .text(p.id);
  if (p.yLab) {
    g.append("text").attr("class", "ylab")
      .attr("transform", `translate(26,${(y0 + y1) / 2}) rotate(-90)`)
      .text("Height (mm)");
  }
}

panels.forEach(drawPanel);

// legend
const legendItems = [
  {label: "Observed sea level (this study)", band: colors.obs, bandOpacity: 0.6, line: colors.obs},
  {label: "Observed sea level (ICE6G_D VM5a)", dash: colors.obsIce},
  {label: "Sum of contributors (this study)", band: colors.sum, bandOpacity: 0.35, line: colors.sum},
  {label: "Sum of contributors (ICE6G_D VM5a)", dash: colors.sumIce},
  {label: "Basin-mean GIA (this study)", band: colors.gia, bandOpacity: 0.35, line: colors.gia},
  {label: "Basin-mean GIA (ICE6G_D VM5a)", dash: colors.giaIce}
];
const legendY = d3.scalePoint().domain(d3.range(legendItems.length)).range([101, 258]);
const legend = svg.append("g").attr("class", "legend");
legendItems.forEach((item, i) => {
  const row = legend.append("g").attr("transform", `translate(642,${legendY(i)})`);
  if (item.band) {
    row.append("rect").attr("x", 0).attr("y", -8).attr("width", 34).attr("height", 16)
      .attr("fill", item.band).attr("fill-opacity", item.bandOpacity);
    row.append("line").attr("x1", 0).attr("x2", 34).attr("y1", 0).attr("y2", 0)
      .attr("stroke", item.line).attr("stroke-width", 4);
  } else {
    row.append("line").attr("x1", 3).attr("x2", 34).attr("y1", 0).attr("y2", 0)
      .attr("stroke", item.dash).attr("stroke-width", 4.5)
      .attr("stroke-linecap", "round").attr("stroke-dasharray", "2,7");
  }
  row.append("text").attr("x", 40).attr("y", 0).attr("dy", "0.35em").text(item.label);
});
</script>
</body>
</html>
